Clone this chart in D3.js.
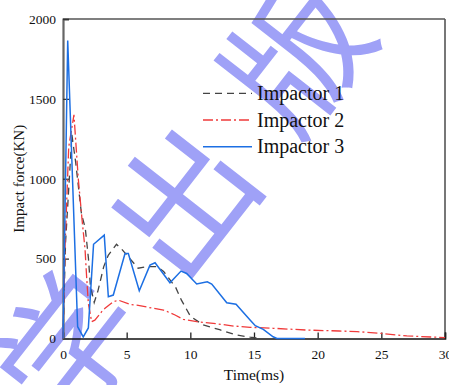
<!DOCTYPE html>
<html>
<head>
<meta charset="utf-8">
<script src="https://cdn.jsdelivr.net/npm/d3@7"></script>
<style>
  body { margin: 0; background: #fff; }
  svg { display: block; }
  svg text { font-family: "Liberation Serif", "Times New Roman", serif; }
  svg text.wm { font-family: "Noto Sans CJK SC", sans-serif; }
</style>
</head>
<body>
<svg id="chart"></svg>
<script>
// data: time (ms), force (KN)
const impactor1 = [
  [0, 0], [0.2, 600], [0.7, 1275], [1.0, 1100], [1.45, 780], [1.75, 690], [2.0, 500],
  [2.15, 330], [2.45, 225], [2.75, 300], [3.2, 450], [3.55, 520], [4.2, 590], [4.6, 560],
  [5.9, 440], [6.6, 450], [7.4, 450], [7.9, 420], [8.85, 320], [9.3, 240], [10.0, 140],
  [11.0, 85], [12.3, 55], [13.6, 22], [14.7, 8], [15.5, 0]
]
const impactor2 = [
  [0, 0], [0.15, 550], [0.45, 1200], [0.86, 1400], [1.2, 1000], [1.5, 740], [1.73, 560],
  [1.86, 380], [1.99, 220], [2.25, 105], [2.5, 115], [3.04, 168], [3.3, 189], [3.95, 230],
  [4.35, 240], [5.3, 212], [5.8, 209], [7.1, 189], [7.9, 178], [8.8, 147], [9.45, 120],
  [10.5, 105], [11.8, 95], [13.4, 78], [14.7, 70], [16.5, 64], [19.1, 53], [21.7, 47],
  [23.1, 43], [25.0, 32], [27.0, 16], [29.3, 8], [30, 5]
]
const impactor3 = [
  [0, 0], [0.37, 1866], [1.15, 74], [1.59, 10], [1.99, 66], [2.4, 590], [3.24, 647],
  [3.56, 261], [3.95, 272], [4.87, 532], [5.13, 532], [5.99, 299], [6.83, 459], [7.23, 474],
  [8.4, 349], [9.27, 422], [9.71, 407], [10.5, 341], [11.33, 355], [11.68, 341], [12.86, 224],
  [13.59, 214], [14.69, 116], [15.1, 80], [15.73, 57], [16.5, 11], [16.8, 0], [19, 0]
]
const xTicks = [0, 5, 10, 15, 20, 25, 30]
const yTicks = [0, 500, 1000, 1500, 2000]
const seriesNames = ['Impactor 1', 'Impactor 2', 'Impactor 3']
const watermark = '科学出版社'

const width = 449
const height = 385
const margin = { top: 19, right: 4, bottom: 46.5, left: 63 }

const svg = d3.select('#chart')
  .attr('width', width)
  .attr('height', height)

// scales
const xScale = d3.scaleLinear().domain([0, 30]).range([margin.left, width - margin.right])
const yScale = d3.scaleLinear().domain([0, 2000]).range([height - margin.bottom, margin.top])

// watermark behind everything
svg.append('text')
  .attr('class', 'wm')
  .attr('transform', 'translate(190,178) rotate(-52)')
  .attr('text-anchor', 'middle')
  .attr('dominant-baseline', 'central')
  .attr('font-size', 140)
  .attr('letter-spacing', 45)
  .attr('fill', '#7f82f5')
  .attr('opacity', 0.75)
  .text(watermark)

// frame lines top / right
svg.append('line')
  .attr('x1', margin.left).attr('x2', width - margin.right)
  .attr('y1', margin.top).attr('y2', margin.top)
  .attr('stroke', '#555').attr('stroke-width', 1.6)
svg.append('line')
  .attr('x1', width - margin.right).attr('x2', width - margin.right)
  .attr('y1', margin.top).attr('y2', height - margin.bottom)
  .attr('stroke', '#555').attr('stroke-width', 1.6)

// axes with inward ticks
const xAxis = d3.axisBottom(xScale).tickValues(xTicks).tickSize(-6).tickPadding(11)
  .tickFormat(d3.format('d'))
const gx = svg.append('g')
  .attr('transform', 'translate(0,' + (height - margin.bottom) + ')')
  .call(xAxis)
gx.select('.domain').attr('stroke', '#111').attr('stroke-width', 1.6)
gx.selectAll('.tick line').attr('stroke', '#222').attr('stroke-width', 1.3)
gx.selectAll('text').attr('font-size', 13.5).attr('fill', '#111')

const yAxis = d3.axisLeft(yScale).tickValues(yTicks).tickSize(-6).tickPadding(7)
  .tickFormat(d3.format('d'))
const gy = svg.append('g')
  .attr('transform', 'translate(' + margin.left + ',0)')
  .call(yAxis)
gy.select('.domain').attr('stroke', '#666').attr('stroke-width', 2.2)
gy.selectAll('.tick line').attr('stroke', '#333').attr('stroke-width', 1.3)
gy.selectAll('text').attr('font-size', 13.5).attr('fill', '#111')

// axis titles
svg.append('text')
  .attr('x', (margin.left + width - margin.right) / 2)
  .attr('y', 380)
  .attr('text-anchor', 'middle')
  .attr('font-size', 15.5)
  .attr('fill', '#111')
  .text('Time(ms)')
svg.append('text')
  .attr('transform', 'translate(24,' + ((margin.top + height - margin.bottom) / 2) + ') rotate(-90)')
  .attr('text-anchor', 'middle')
  .attr('font-size', 15)
  .attr('fill', '#111')
  .text('Impact force(KN)')

// series
const styles = [
  { data: impactor1, color: '#444', dash: '7,5', w: 1.3 },
  { data: impactor2, color: '#f03a3a', dash: '10,3,2,3', w: 1.3 },
  { data: impactor3, color: '#1c6fe3', dash: null, w: 1.5 }
]
const line = d3.line()
  .x((d) => xScale(d[0]))
  .y((d) => yScale(d[1]))

styles.forEach((s) => {
  svg.append('path')
    .datum(s.data)
    .attr('fill', 'none')
    .attr('stroke', s.color)
    .attr('stroke-width', s.w)
    .attr('stroke-dasharray', s.dash)
    .attr('d', line)
})

// legend
const legend = svg.append('g')
styles.forEach((s, i) => {
  const y = 93.3 + i * 26.7
  legend.append('line')
    .attr('x1', 203).attr('x2', 252)
    .attr('y1', y).attr('y2', y)
    .attr('stroke', s.color)
    .attr('stroke-width', s.w)
    .attr('stroke-dasharray', s.dash)
  legend.append('text')
    .attr('x', 257)
    .attr('y', y + 6.7)
    .attr('font-size', 20)
    .attr('fill', '#111')
    .text(seriesNames[i])
})
</script>
</body>
</html>
